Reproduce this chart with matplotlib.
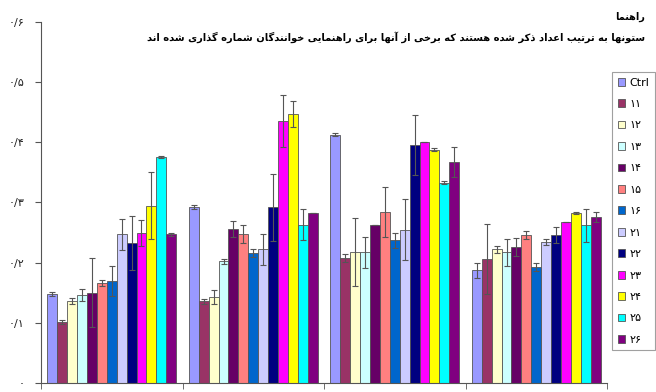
import numpy as np
import matplotlib
matplotlib.use("Agg")
import matplotlib.pyplot as plt

# ---- DATA ----
series = ["Ctrl", "۱۱", "۱۲", "۱۳", "۱۴", "۱۵", "۱۶", "۲۱", "۲۲", "۲۳", "۲۴", "۲۵", "۲۶"]
colors = ["#9999FF", "#993366", "#FFFFCC", "#CCFFFF", "#660066", "#FF8080", "#0066CC",
          "#CCCCFF", "#000080", "#FF00FF", "#FFFF00", "#00FFFF", "#800080"]

# one row per group, one column per series
values = [
    [0.148, 0.101, 0.136, 0.146, 0.150, 0.166, 0.169, 0.247, 0.232, 0.249, 0.295, 0.376, 0.247],
    [0.293, 0.136, 0.143, 0.202, 0.256, 0.247, 0.216, 0.222, 0.292, 0.435, 0.447, 0.263, 0.283],
    [0.413, 0.208, 0.218, 0.217, 0.262, 0.284, 0.237, 0.255, 0.395, 0.400, 0.388, 0.333, 0.367],
    [0.187, 0.206, 0.222, 0.217, 0.226, 0.246, 0.193, 0.235, 0.246, 0.268, 0.283, 0.262, 0.276],
]
errors = [
    [0.003, 0.003, 0.005, 0.010, 0.057, 0.005, 0.025, 0.026, 0.045, 0.022, 0.055, 0.002, 0.002],
    [0.003, 0.004, 0.011, 0.004, 0.013, 0.015, 0.006, 0.026, 0.056, 0.043, 0.022, 0.026, 0.0],
    [0.003, 0.007, 0.056, 0.026, 0.0, 0.041, 0.012, 0.050, 0.050, 0.0, 0.002, 0.002, 0.025],
    [0.012, 0.058, 0.006, 0.023, 0.015, 0.007, 0.007, 0.005, 0.013, 0.0, 0.002, 0.028, 0.008],
]
yticks = [0, 0.1, 0.2, 0.3, 0.4, 0.5, 0.6]
ytick_labels = ["۰", "۰/۱", "۰/۲", "۰/۳", "۰/۴", "۰/۵", "۰/۶"]

legend_title = "راهنما"
note = "ستونها به ترتیب اعداد ذکر شده هستند که برخی از آنها برای راهنمایی خوانندگان شماره گذاری شده اند"


# ---- minimal Persian shaping (no reshaper lib available) ----
FORMS = {
    "ا": ("\uFE8D", "\uFE8E", None, None),
    "آ": ("\uFE81", "\uFE82", None, None),
    "ب": ("\uFE8F", "\uFE90", "\uFE91", "\uFE92"),
    "ت": ("\uFE95", "\uFE96", "\uFE97", "\uFE98"),
    "خ": ("\uFEA5", "\uFEA6", "\uFEA7", "\uFEA8"),
    "د": ("\uFEA9", "\uFEAA", None, None),
    "ذ": ("\uFEAB", "\uFEAC", None, None),
    "ر": ("\uFEAD", "\uFEAE", None, None),
    "ز": ("\uFEAF", "\uFEB0", None, None),
    "س": ("\uFEB1", "\uFEB2", "\uFEB3", "\uFEB4"),
    "ش": ("\uFEB5", "\uFEB6", "\uFEB7", "\uFEB8"),
    "ع": ("\uFEC9", "\uFECA", "\uFECB", "\uFECC"),
    "م": ("\uFEE1", "\uFEE2", "\uFEE3", "\uFEE4"),
    "ن": ("\uFEE5", "\uFEE6", "\uFEE7", "\uFEE8"),
    "ه": ("\uFEE9", "\uFEEA", "\uFEEB", "\uFEEC"),
    "و": ("\uFEED", "\uFEEE", None, None),
    "ک": ("\uFB8E", "\uFB8F", "\uFB90", "\uFB91"),
    "گ": ("\uFB92", "\uFB93", "\uFB94", "\uFB95"),
    "ی": ("\uFBFC", "\uFBFD", "\uFBFE", "\uFBFF"),
}


def shape(text):
    out = []
    for i, ch in enumerate(text):
        if ch not in FORMS:
            out.append(ch)
            continue
        prev = text[i - 1] if i > 0 else " "
        nxt = text[i + 1] if i + 1 < len(text) else " "
        join_prev = prev in FORMS and FORMS[prev][2] is not None
        join_next = FORMS[ch][2] is not None and nxt in FORMS
        iso, fin, ini, med = FORMS[ch]
        if join_prev and join_next:
            out.append(med)
        elif join_prev:
            out.append(fin)
        elif join_next:
            out.append(ini)
        else:
            out.append(iso)
    return "".join(out)[::-1]


plt.rcParams["font.family"] = ["DejaVu Sans"]

# ---- PLOT ----
fig = plt.figure(figsize=(6.56, 3.92), dpi=100)
ax = fig.add_axes([41 / 656, 9 / 392, (607 - 41) / 656, (383 - 22) / 392])

n = len(series)
groups = np.arange(len(values))
bw = 0.91 / n
vals = np.array(values)
errs = np.array(errors)

for j in range(n):
    x = groups - 0.455 + bw * (j + 0.5)
    ax.bar(x, vals[:, j], width=bw, color=colors[j], edgecolor="#555555",
           linewidth=0.6, label=series[j], zorder=2)
    ax.errorbar(x, vals[:, j], yerr=errs[:, j], fmt="none", ecolor="#555555",
                elinewidth=0.8, capsize=2, capthick=0.8, zorder=3)

ax.set_xlim(-0.5, len(values) - 0.5)
ax.set_ylim(0, 0.6)
ax.set_yticks(yticks)
ax.set_yticklabels(ytick_labels, fontsize=8, color="#222222")
ax.set_xticks([])
ax.set_xticks(np.arange(-0.5, len(values)), minor=True)
ax.tick_params(axis="x", which="minor", length=4, color="#555555")
ax.tick_params(axis="y", length=4, color="#555555", pad=8)
for s in ["top", "right"]:
    ax.spines[s].set_visible(False)
for s in ["left", "bottom"]:
    ax.spines[s].set_color("#555555")
    ax.spines[s].set_linewidth(0.8)

leg = fig.legend(loc="upper left", bbox_to_anchor=(612 / 656, 1 - 72 / 392),
                 fontsize=8, labelspacing=1.03, handlelength=0.7, handleheight=0.7,
                 handletextpad=0.4, borderpad=0.5, borderaxespad=0, fancybox=False,
                 frameon=True, edgecolor="#888888")
leg.get_frame().set_linewidth(0.8)

fig.text(645 / 656, 1 - 17 / 392, shape(legend_title), ha="right", va="center",
         fontsize=7, fontweight="bold")
fig.text(645 / 656, 1 - 37 / 392, shape(note), ha="right", va="center",
         fontsize=7.1, fontweight="bold")

fig.savefig("out.png", dpi=100)
